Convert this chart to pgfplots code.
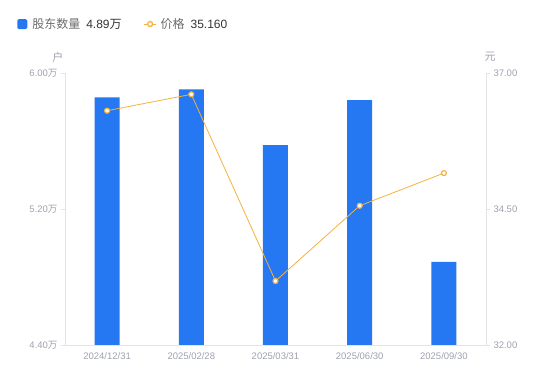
\documentclass[border=0pt]{standalone}
\usepackage{pgfplots}
\pgfplotsset{compat=1.18}
\usepackage{fontspec}
\setmainfont{Liberation Sans}
\newfontfamily\cjk{Noto Sans CJK SC}
\definecolor{barblue}{HTML}{2677F2}
\definecolor{lineorange}{HTML}{F5B23C}
\definecolor{ticklab}{HTML}{9EA1AF}
\definecolor{axline}{HTML}{E3E3E8}
\definecolor{legtxt}{HTML}{6B6B6B}
\definecolor{darktxt}{HTML}{333333}
\begin{document}
\begin{tikzpicture}
\path[use as bounding box] (0,0) rectangle (550pt,381pt);
\pgfplotsset{every axis/.append style={
  scale only axis, width=421pt, height=272pt,
  at={(65pt,36pt)}, anchor=south west,
  xmin=-0.5, xmax=4.5, clip=false,
  /pgf/number format/assume math mode=true,
  tick label style={font=\fontsize{9.5}{11}\selectfont, text=ticklab},
  axis line style={axline, line width=0.8pt},
  major tick style={axline, line width=0.8pt},
  major tick length=4pt, tick align=outside,
}}
\begin{axis}[
  axis y line*=left, axis x line*=bottom,
  ymin=4.4, ymax=6.0, ytick={4.4,5.2,6.0},
  yticklabels={4.40{\cjk 万},5.20{\cjk 万},6.00{\cjk 万}},
  xtick={0,1,2,3,4},
  xticklabels={2024/12/31,2025/02/28,2025/03/31,2025/06/30,2025/09/30},
  x tick style={draw=none},
  legend style={at={(-0.121,1.18)}, anchor=west, draw=none, fill=none,
    font=\fontsize{12}{14}\selectfont,
    /tikz/every even column/.append style={column sep=20pt}},
  legend columns=2, legend cell align=left,
]
\addplot[ybar, bar width=25pt, fill=barblue, draw=none,
  legend image code/.code={\fill[barblue, rounded corners=1.5pt] (0pt,-5pt) rectangle (10pt,5pt);}]
  coordinates {(0,5.857) (1,5.904) (2,5.576) (3,5.841) (4,4.889)};
\addlegendentry{\hspace{3pt}{\color{legtxt}\cjk 股东数量}\hspace{6pt}{\color{darktxt}4.89\cjk 万}}
\addlegendimage{legend image code/.code={\draw[lineorange, line width=1pt] (0pt,0pt) -- (12pt,0pt); \draw[lineorange, line width=1.3pt, fill=white] (6pt,0pt) circle (2.5pt);}}
\addlegendentry{\hspace{2pt}{\color{legtxt}\cjk 价格}\hspace{6pt}{\color{darktxt}35.160}}
\node[font=\fontsize{11}{13}\selectfont\cjk, text=ticklab] at (rel axis cs:-0.017,1.059) {户};
\end{axis}
\begin{axis}[
  axis y line*=right, axis x line=none,
  ymin=32, ymax=37, ytick={32,34.5,37},
  yticklabels={32.00,34.50,37.00},
]
\addplot[lineorange, line width=0.8pt, mark=*, mark size=2.5pt,
  mark options={fill=white, draw=lineorange, line width=1.2pt}]
  coordinates {(0,36.307) (1,36.608) (2,33.176) (3,34.56) (4,35.16)};
\node[font=\fontsize{11}{13}\selectfont\cjk, text=ticklab] at (rel axis cs:1.0095,1.059) {元};
\end{axis}
\end{tikzpicture}
\end{document}
